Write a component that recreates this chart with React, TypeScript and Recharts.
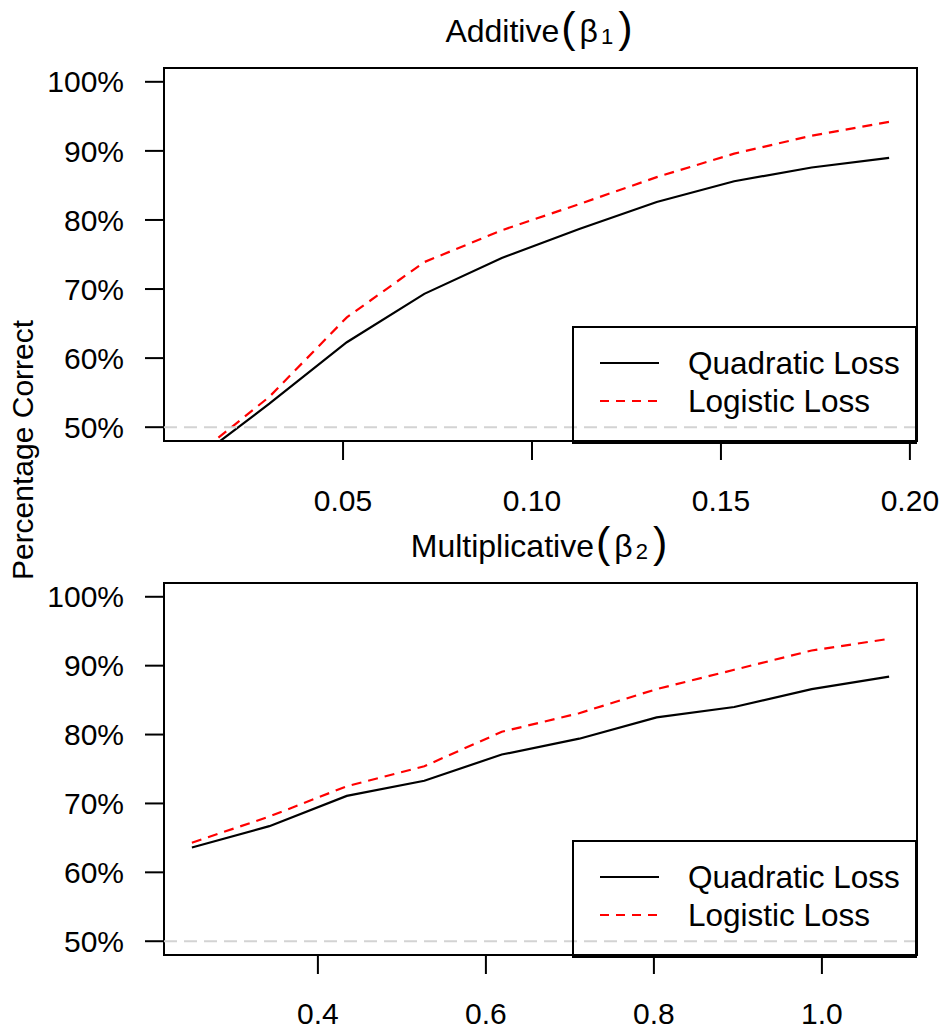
import React from 'react';
import { LineChart, Line, XAxis, YAxis, ReferenceLine, ReferenceArea, Legend } from 'recharts';

const FONT = '"Liberation Sans", Arial, Helvetica, sans-serif';

// Top panel: Additive (beta1)
const addX = [0.01, 0.0305, 0.051, 0.0715, 0.092, 0.1125, 0.133, 0.1535, 0.174, 0.1945];
const addQuadratic = [44.9, 53.4, 62.3, 69.3, 74.5, 78.7, 82.6, 85.6, 87.6, 89.0];
const addLogistic = [45.4, 54.4, 65.9, 73.9, 78.5, 82.3, 86.2, 89.6, 92.2, 94.2];
const addTicks = [0.05, 0.1, 0.15, 0.2];

// Bottom panel: Multiplicative (beta2)
const mulX = [0.25, 0.3422, 0.4344, 0.5267, 0.6189, 0.7111, 0.8033, 0.8956, 0.9878, 1.08];
const mulQuadratic = [63.6, 66.7, 71.1, 73.3, 77.1, 79.4, 82.5, 84.0, 86.6, 88.4];
const mulLogistic = [64.3, 68.1, 72.5, 75.4, 80.4, 83.1, 86.6, 89.4, 92.2, 93.9];
const mulTicks = [0.4, 0.6, 0.8, 1.0];

const yLimits = [50, 100];
const yTicks = [50, 60, 70, 80, 90, 100];
const seriesNames = ['Quadratic Loss', 'Logistic Loss'];
const chanceLevel = 50;

const pad = (lo: number, hi: number): [number, number] => {
  const r = hi - lo;
  return [lo - 0.04 * r, hi + 0.04 * r];
};

const DASH: Record<string, string | undefined> = {
  'Quadratic Loss': undefined,
  'Logistic Loss': '9 7',
};

const LegendBox = (props: any) => {
  const payload = [...(props.payload || [])].sort(
    (a: any, b: any) => seriesNames.indexOf(a.value) - seriesNames.indexOf(b.value)
  );
  return (
    <svg width={345} height={115} style={{ display: 'block', overflow: 'visible' }}>
      <rect x={1} y={1} width={343} height={116} fill="none" stroke="#000" strokeWidth={2} />
      {payload.map((e: any, i: number) => {
        const y = 37 + i * 38;
        return (
          <g key={e.value}>
            <line x1={28} x2={87} y1={y} y2={y} stroke={e.color} strokeWidth={2} strokeDasharray={DASH[e.value]} />
            <text x={116} y={y} dominantBaseline="central" fontSize={31.5} fontFamily={FONT} fill="#000">
              {e.value}
            </text>
          </g>
        );
      })}
    </svg>
  );
};

type PanelProps = {
  xs: number[];
  quad: number[];
  logi: number[];
  ticks: number[];
  decimals: number;
  top: number;
  marginTop: number;
  xAxisHeight: number;
  tickMarginX: number;
  legendTop: number;
};

const Panel = ({ xs, quad, logi, ticks, decimals, top, marginTop, xAxisHeight, tickMarginX, legendTop }: PanelProps) => {
  const data = xs.map((x, i) => ({ x, quad: quad[i], logi: logi[i] }));
  const xDomain = pad(Math.min(...xs), Math.max(...xs));
  const yDomain = pad(yLimits[0], yLimits[1]);
  return (
    <div style={{ position: 'absolute', left: 0, top, width: 944, height: 516 }}>
      <LineChart width={944} height={516} data={data} margin={{ top: marginTop, right: 27, bottom: 0, left: 0 }}>
        <XAxis
          dataKey="x"
          type="number"
          domain={xDomain}
          allowDataOverflow
          ticks={ticks}
          tickFormatter={(v: number) => v.toFixed(decimals)}
          axisLine={false}
          tickSize={19}
          tickMargin={tickMarginX}
          height={xAxisHeight}
          tickLine={{ stroke: '#000', strokeWidth: 2 }}
          tick={{ fill: '#000', fontSize: 30, fontFamily: FONT }}
          interval={0}
        />
        <YAxis
          type="number"
          domain={yDomain}
          allowDataOverflow
          ticks={yTicks}
          tickFormatter={(v: number) => `${v}%`}
          axisLine={false}
          tickSize={19}
          tickMargin={21}
          width={164}
          tickLine={{ stroke: '#000', strokeWidth: 2 }}
          tick={{ fill: '#000', fontSize: 30, fontFamily: FONT }}
          interval={0}
        />
        <Line
          dataKey="quad"
          name={seriesNames[0]}
          stroke="#000000"
          strokeWidth={2.2}
          dot={false}
          type="linear"
          isAnimationActive={false}
        />
        <Line
          dataKey="logi"
          name={seriesNames[1]}
          stroke="#ff0000"
          strokeWidth={2.2}
          strokeDasharray="10 7"
          dot={false}
          type="linear"
          isAnimationActive={false}
        />
        <ReferenceLine y={chanceLevel} stroke="#d3d3d3" strokeWidth={2} strokeDasharray="13 7" />
        <ReferenceArea
          x1={xDomain[0]}
          x2={xDomain[1]}
          y1={yDomain[0]}
          y2={yDomain[1]}
          fill="none"
          fillOpacity={0}
          stroke="#000"
          strokeWidth={2}
          ifOverflow="visible"
        />
        <Legend
          layout="vertical"
          align="center"
          verticalAlign="middle"
          content={<LegendBox />}
          wrapperStyle={{ left: 572, top: legendTop, width: 345, height: 115 }}
        />
      </LineChart>
    </div>
  );
};

const Title = ({ y, main, sub }: { y: number; main: string; sub: string }) => (
  <text x={539} y={y} textAnchor="middle" fontSize={32} fontFamily={FONT} fill="#000">
    {main}
    <tspan fontSize={43} dx={2}>(</tspan>
    <tspan dx={4}>β</tspan>
    <tspan fontSize={22} dy={2} dx={3}>{sub}</tspan>
    <tspan fontSize={43} dy={-2} dx={5}>)</tspan>
  </text>
);

export default function App() {
  return (
    <div style={{ position: 'absolute', left: 0, top: 0, width: 944, height: 1032, background: '#fff', fontFamily: FONT }}>
      <Panel
        xs={addX}
        quad={addQuadratic}
        logi={addLogistic}
        ticks={addTicks}
        decimals={2}
        top={0}
        marginTop={68}
        xAxisHeight={75}
        tickMarginX={30}
        legendTop={326}
      />
      <Panel
        xs={mulX}
        quad={mulQuadratic}
        logi={mulLogistic}
        ticks={mulTicks}
        decimals={1}
        top={516}
        marginTop={67}
        xAxisHeight={77}
        tickMarginX={29}
        legendTop={324}
      />
      <svg
        width={944}
        height={1032}
        style={{ position: 'absolute', left: 0, top: 0, pointerEvents: 'none' }}
      >
        <Title y={42} main="Additive" sub="1" />
        <Title y={557} main="Multiplicative" sub="2" />
        <text
          transform="translate(33,450) rotate(-90)"
          textAnchor="middle"
          fontSize={30}
          fontFamily={FONT}
          fill="#000"
        >
          Percentage Correct
        </text>
      </svg>
    </div>
  );
}
